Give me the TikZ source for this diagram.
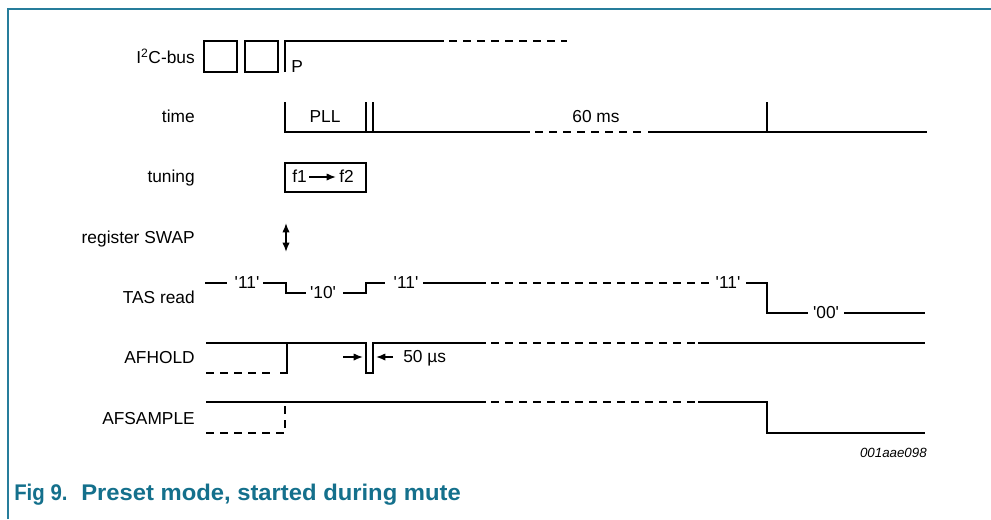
\documentclass[tikz,border=0pt]{standalone}
\usepackage{fontspec}
\setmainfont{Liberation Sans}
\usetikzlibrary{arrows.meta}
\definecolor{frame}{RGB}{38,125,155}
\definecolor{capt}{RGB}{20,112,140}
\newcommand{\sq}{\textquotesingle}
\begin{document}
\begin{tikzpicture}[x=0.75pt,y=-0.75pt,
  sig/.style={line width=2pt},
  sigd/.style={line width=2pt,dash pattern=on 6pt off 4.5pt},
  lbl/.style={anchor=base east,font=\fontsize{13}{15}\selectfont,inner sep=0pt},
  txt/.style={anchor=base,font=\fontsize{13}{15}\selectfont,inner sep=0pt},
  val/.style={anchor=base,font=\fontsize{13}{15}\selectfont,inner sep=0pt},
  captxt/.style={anchor=base west,inner sep=0pt,text=capt,font=\fontsize{17}{20}\selectfont\bfseries},
  tip/.style={line width=1.1pt,-{Latex[length=7pt,width=5.5pt]}}]
\useasboundingbox (0,0) rectangle (991,519);
\fill[white] (0,0) rectangle (991,519);
% frame
\draw[frame,line width=1.5pt] (8,519) -- (8,9) -- (991,9);
% labels
\node[lbl] (l1) at (195,63) {I\textsuperscript{2}C-bus};
\node[lbl] (l2) at (195,122) {time};
\node[lbl] (l3) at (195,182) {tuning};
\node[lbl] (l4) at (195,243) {register SWAP};
\node[lbl] (l5) at (195,303) {TAS read};
\node[lbl] (l6) at (195,363) {AFHOLD};
\node[lbl] (l7) at (195,424) {AFSAMPLE};
% I2C-bus
\draw[sig] (204,41) rectangle (237,72);
\draw[sig] (245,41) rectangle (278,72);
\draw[sig] (285,72) -- (285,41) -- (444,41);
\draw[sigd] (449,41) -- (567,41);
\node[txt,anchor=base west] (p) at (291,72) {P};
% time
\draw[sig] (285,102) -- (285,132) -- (530,132);
\draw[sigd] (535,132) -- (645,132);
\draw[sig] (648,132) -- (927,132);
\draw[sig] (366,102) -- (366,132);
\draw[sig] (373,102) -- (373,132);
\draw[sig] (767,102) -- (767,132);
\node[txt] (pll) at (325,122) {PLL};
\node[txt] (ms) at (596,122) {60 ms};
% tuning
\draw[sig] (285,163) rectangle (366,192);
\node[txt,anchor=base west] (f1) at (292,182) {f1};
\node[txt,anchor=base west] (f2) at (339,182) {f2};
\coordinate (fa) at (309,177);
\coordinate (fb) at (336,177);
\draw[tip] (fa) -- (fb);
% register SWAP
\coordinate (sw1) at (286,223);
\coordinate (sw2) at (286,252);
\draw[line width=1.1pt,{Latex[length=7pt,width=5.5pt]}-{Latex[length=7pt,width=5.5pt]}] (sw1) -- (sw2);
% TAS read
\draw[sig] (205,283) -- (227,283);
\node[val] (t1) at (247,288) {\sq11\sq};
\draw[sig] (263,283) -- (286,283) -- (286,293) -- (306,293);
\node[val] (t2) at (323,298) {\sq10\sq};
\draw[sig] (343,293) -- (366,293) -- (366,283) -- (385,283);
\node[val] (t3) at (406,288) {\sq11\sq};
\draw[sig] (423,283) -- (486,283);
\draw[sigd] (491,283) -- (710,283);
\node[val] (t4) at (728,288) {\sq11\sq};
\draw[sig] (746,283) -- (767,283) -- (767,313) -- (808,313);
\node[val] (t5) at (826,318) {\sq00\sq};
\draw[sig] (844,313) -- (925,313);
% AFHOLD
\draw[sig] (206,343) -- (366,343) -- (366,373) -- (373,373) -- (373,343) -- (486,343);
\draw[sigd] (491,343) -- (695,343);
\draw[sig] (698,343) -- (925,343);
\draw[sigd] (206,373) -- (276,373);
\draw[sig] (280,373) -- (287,373) -- (287,343);
\coordinate (a1) at (343,357);
\coordinate (a2) at (393,357);
\draw[tip] (a1) -- (363,357);
\draw[tip] (a2) -- (376,357);
\node[txt,anchor=base west] (us) at (403,362) {50 µs};
% AFSAMPLE
\draw[sig] (206,402) -- (486,402);
\draw[sigd] (491,402) -- (695,402);
\draw[sig] (698,402) -- (767,402) -- (767,433) -- (925,433);
\draw[sigd] (206,433) -- (285,433) -- (285,402);
% code
\node[anchor=base east,inner sep=0pt,font=\fontsize{10}{12}\selectfont\itshape] (code) at (927,457) {001aae098};
% caption
\node[captxt] (capa) at (14,500) {\scalebox{0.9}[1]{Fig 9.}};
\node[captxt] (capb) at (81,500) {\scalebox{1.05}[1]{Preset mode, started during mute}};
\end{tikzpicture}
\end{document}
